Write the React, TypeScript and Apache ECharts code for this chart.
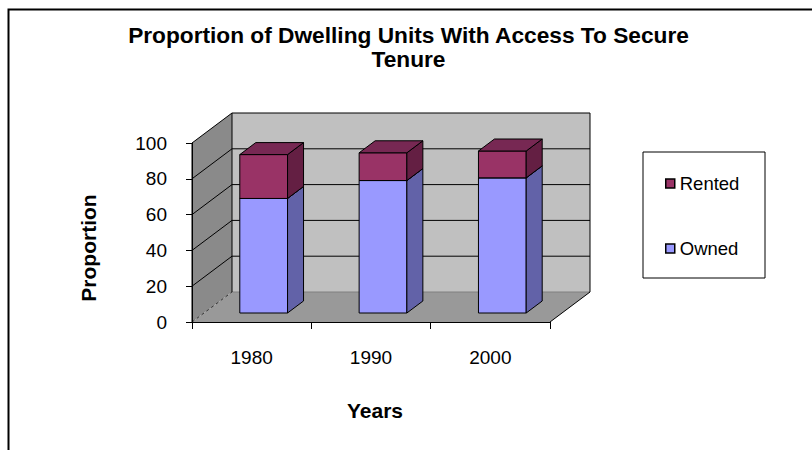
import React, { useEffect, useRef } from 'react';
import * as echarts from 'echarts';

const YEARS = ['1980', '1990', '2000'];
const OWNED = [64, 74, 75.5];
const RENTED = [24.5, 15.5, 15];
const Y_TICKS = [0, 20, 40, 60, 80, 100];
const LEGEND_NAMES = ['Rented', 'Owned'];
const TITLE = 'Proportion of Dwelling Units With Access To Secure\nTenure';
const X_NAME = 'Years';
const Y_NAME = 'Proportion';

const FONT = '"Liberation Sans", Arial, Helvetica, sans-serif';
const DX = 40;
const DY = -30;
const BAR_FRONT = 0.3;
const BAR_DEPTH = 0.4;
const BAR_WIDTH = 0.4;

const COLORS = {
  owned: { front: '#9999ff', side: '#6262a8', top: '#7a7ad0' },
  rented: { front: '#993366', side: '#641f43', top: '#772853' },
};

function boxRenderer(colors: { front: string; side: string; top: string }) {
  return (params: any, api: any) => {
    const idx = api.value(0);
    const base = api.value(1);
    const top = api.value(2);
    const c0 = api.coord([idx, base]);
    const c1 = api.coord([idx, top]);
    const band = api.size([1, 0])[0];
    const w = band * BAR_WIDTH;
    const L = c0[0] - w / 2 + DX * BAR_FRONT;
    const R = L + w;
    const B = c0[1] + DY * BAR_FRONT;
    const T = c1[1] + DY * BAR_FRONT;
    const ddx = DX * BAR_DEPTH;
    const ddy = DY * BAR_DEPTH;
    const stroke = { stroke: '#000', lineWidth: 1 };
    return {
      type: 'group',
      children: [
        { type: 'polygon', shape: { points: [[L, T], [R, T], [R, B], [L, B]] }, style: { fill: colors.front, ...stroke } },
        { type: 'polygon', shape: { points: [[R, T], [R + ddx, T + ddy], [R + ddx, B + ddy], [R, B]] }, style: { fill: colors.side, ...stroke } },
        { type: 'polygon', shape: { points: [[L, T], [R, T], [R + ddx, T + ddy], [L + ddx, T + ddy]] }, style: { fill: colors.top, ...stroke } },
      ],
    };
  };
}

function wallsRenderer(params: any, api: any) {
  const cs = params.coordSys;
  const x0 = cs.x;
  const x1 = cs.x + cs.width;
  const yb = api.coord([0, Y_TICKS[0]])[1];
  const yt = api.coord([0, Y_TICKS[Y_TICKS.length - 1]])[1];
  const children: any[] = [];
  // floor
  children.push({ type: 'polygon', shape: { points: [[x0, yb], [x1, yb], [x1 + DX, yb + DY], [x0 + DX, yb + DY]] }, style: { fill: '#999999' } });
  // back wall
  children.push({ type: 'polygon', shape: { points: [[x0 + DX, yt + DY], [x1 + DX, yt + DY], [x1 + DX, yb + DY], [x0 + DX, yb + DY]] }, style: { fill: '#c0c0c0' } });
  // left wall
  children.push({ type: 'polygon', shape: { points: [[x0, yb], [x0, yt], [x0 + DX, yt + DY], [x0 + DX, yb + DY]] }, style: { fill: '#8a8a8a' } });
  // back floor edge
  children.push({ type: 'line', shape: { x1: x0 + DX, y1: yb + DY, x2: x1 + DX, y2: yb + DY }, style: { stroke: '#808080', lineWidth: 1 } });
  // grid lines
  Y_TICKS.forEach((v) => {
    const y = api.coord([0, v])[1];
    if (v === Y_TICKS[0]) {
      children.push({ type: 'line', shape: { x1: x0, y1: y, x2: x0 + DX, y2: y + DY }, style: { stroke: '#333', lineWidth: 1, lineDash: [3, 3] } });
      return;
    }
    children.push({ type: 'line', shape: { x1: x0 + DX, y1: y + DY, x2: x1 + DX, y2: y + DY }, style: { stroke: '#000', lineWidth: 1 } });
    children.push({ type: 'line', shape: { x1: x0, y1: y, x2: x0 + DX, y2: y + DY }, style: { stroke: '#000', lineWidth: 1 } });
  });
  // edges
  children.push({ type: 'line', shape: { x1: x0 + DX, y1: yt + DY, x2: x0 + DX, y2: yb + DY }, style: { stroke: '#000', lineWidth: 1 } });
  children.push({ type: 'line', shape: { x1: x1 + DX, y1: yt + DY, x2: x1 + DX, y2: yb + DY }, style: { stroke: '#000', lineWidth: 1 } });
  children.push({ type: 'line', shape: { x1: x1, y1: yb, x2: x1 + DX, y2: yb + DY }, style: { stroke: '#000', lineWidth: 1 } });
  children.push({ type: 'line', shape: { x1: x0, y1: yb, x2: x0, y2: yt }, style: { stroke: '#000', lineWidth: 1 } });
  return { type: 'group', children };
}

export default function App() {
  const ref = useRef<HTMLDivElement>(null);
  useEffect(() => {
    if (!ref.current) return;
    const chart = echarts.init(ref.current, null, { renderer: 'svg' });
    const ownedData = YEARS.map((_, i) => [i, 0, OWNED[i]]);
    const rentedData = YEARS.map((_, i) => [i, OWNED[i], OWNED[i] + RENTED[i]]);
    chart.setOption({
      animation: false,
      backgroundColor: '#ffffff',
      title: {
        text: TITLE,
        left: 403.5,
        top: 18,
        textAlign: 'center',
        textStyle: { fontFamily: FONT, fontSize: 22.7, fontWeight: 'bold', color: '#000', lineHeight: 24 },
      },
      grid: { left: 192, right: 262, top: 143, bottom: 128 },
      xAxis: {
        type: 'category',
        data: YEARS,
        z: 10,
        axisLine: { lineStyle: { color: '#000', width: 1 } },
        axisTick: { show: true, length: 7, lineStyle: { color: '#000' } },
        axisLabel: { margin: 26, fontFamily: FONT, fontSize: 19, color: '#000' },
        splitLine: { show: false },
      },
      yAxis: {
        type: 'value',
        min: 0,
        max: 100,
        interval: 20,
        z: 10,
        axisLine: { show: true, lineStyle: { color: '#000', width: 1 } },
        axisTick: { show: true, length: 6, lineStyle: { color: '#000' } },
        axisLabel: { margin: 25, fontFamily: FONT, fontSize: 19, color: '#000' },
        splitLine: { show: false },
      },
      legend: {
        data: LEGEND_NAMES,
        orient: 'vertical',
        left: 665,
        top: 174,
        padding: 0,
        itemWidth: 9,
        itemHeight: 9,
        itemGap: 46,
        icon: 'rect',
        itemStyle: { borderColor: '#000', borderWidth: 1.5 },
        textStyle: { fontFamily: FONT, fontSize: 18.5, color: '#000', lineHeight: 18 },
      },
      graphic: [
        { type: 'rect', shape: { x: 8.5, y: 9.5, width: 900, height: 600 }, style: { fill: 'none', stroke: '#000', lineWidth: 2 }, silent: true },
        { type: 'rect', shape: { x: 643, y: 152, width: 122, height: 126 }, style: { fill: 'none', stroke: '#000', lineWidth: 1 }, silent: true },
        { type: 'text', x: 375, y: 410, style: { text: X_NAME, font: `bold 21px ${FONT}`, fill: '#000', align: 'center', verticalAlign: 'middle' } },
        { type: 'text', x: 88, y: 248, rotation: Math.PI / 2, style: { text: Y_NAME, font: `bold 21px ${FONT}`, fill: '#000', align: 'center', verticalAlign: 'middle' } },
      ],
      series: [
        { type: 'custom', name: 'walls', z: 1, data: [[0, 0]], renderItem: wallsRenderer, silent: true },
        { type: 'custom', name: 'Owned', z: 2, itemStyle: { color: COLORS.owned.front }, data: ownedData, renderItem: boxRenderer(COLORS.owned), encode: { x: 0, y: [1, 2] } },
        { type: 'custom', name: 'Rented', z: 3, itemStyle: { color: COLORS.rented.front }, data: rentedData, renderItem: boxRenderer(COLORS.rented), encode: { x: 0, y: [1, 2] } },
      ],
    });
    return () => chart.dispose();
  }, []);
  return <div ref={ref} style={{ position: 'fixed', left: 0, top: 0, width: 812, height: 450 }} />;
}
